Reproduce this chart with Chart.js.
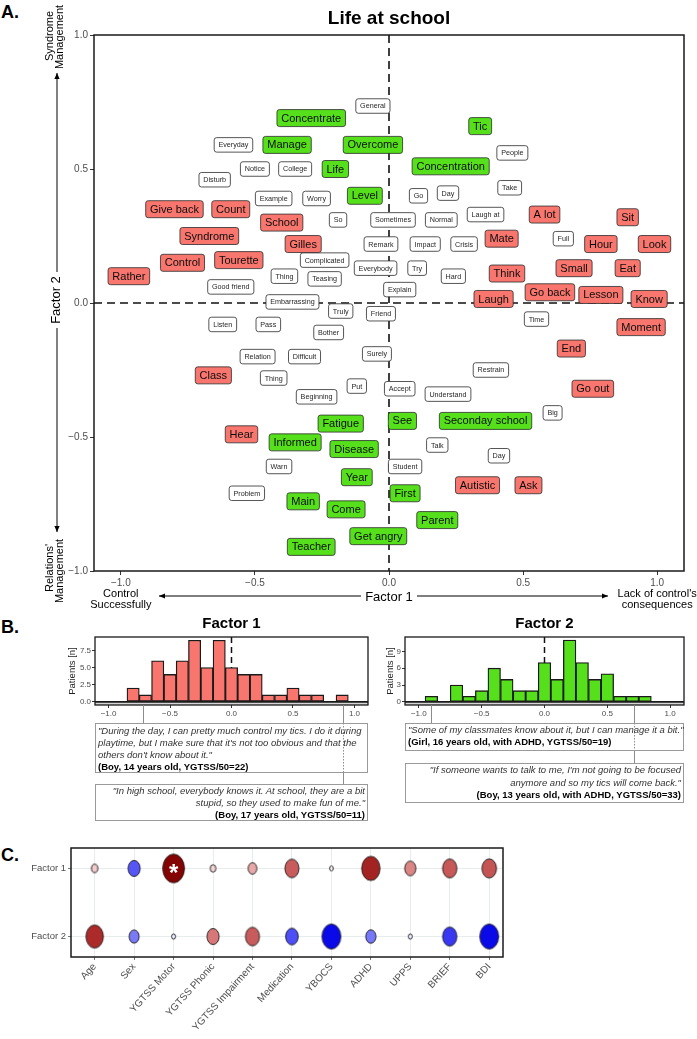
<!DOCTYPE html>
<html>
<head>
<meta charset="utf-8">
<title>Life at school</title>
<script src="https://cdn.jsdelivr.net/npm/chart.js@4.4.1/dist/chart.umd.min.js"></script>
<style>
  html, body { margin: 0; padding: 0; background: #fff; }
  body { width: 697px; height: 1039px; position: relative; overflow: hidden; font-family: "Liberation Sans", Arial, sans-serif; }
  canvas { position: absolute; }
  .tag { position: absolute; left: 1px; font-weight: bold; font-size: 18px; line-height: 18px; color: #000; }
  .quote { position: absolute; box-sizing: border-box; border: 1px solid #9a9a9a; font-size: 9.5px; color: #333; white-space: nowrap; padding: 0 2px; }
  .quote .ql { font-style: italic; }
  .quote .qw { font-weight: bold; color: #000; }
</style>
</head>
<body>
<div class="tag" style="top:3px;">A.</div>
<div class="tag" style="top:618px;">B.</div>
<div class="tag" style="top:846px;">C.</div>
<canvas id="chartA" width="697" height="615" style="left:0;top:0;"></canvas>
<canvas id="chartB1" width="375" height="215" style="left:0;top:610px;"></canvas>
<canvas id="chartB2" width="322" height="215" style="left:375px;top:610px;"></canvas>
<canvas id="chartC" width="697" height="209" style="left:0;top:830px;"></canvas>

<script>
/* ============================================================
   Life at school — word map, factor histograms, correlations
   ============================================================ */
(function () {
  'use strict';

  var FONT = '"Liberation Sans", Arial, sans-serif';
  var RED = '#F8766D';
  var GREEN = '#55E01B';
  var GREY = '#4D4D4D';

  // ---- A. words on the two factors ----
  var redWords = ['Give back', 'Count', 'School', 'Syndrome', 'Gilles', 'Control', 'Tourette', 'Rather', 'A lot', 'Sit',
    'Mate', 'Hour', 'Look', 'Think', 'Small', 'Eat', 'Laugh', 'Go back', 'Lesson', 'Know', 'Moment', 'End', 'Class',
    'Go out', 'Hear', 'Autistic', 'Ask'];
  var redX = [-0.80, -0.59, -0.40, -0.67, -0.32, -0.77, -0.56, -0.97, 0.58, 0.89,
    0.42, 0.79, 0.99, 0.44, 0.69, 0.89, 0.39, 0.60, 0.79, 0.97, 0.94, 0.68, -0.655,
    0.76, -0.55, 0.33, 0.52];
  var redY = [0.35, 0.35, 0.30, 0.25, 0.22, 0.15, 0.16, 0.10, 0.33, 0.32,
    0.24, 0.22, 0.22, 0.11, 0.13, 0.13, 0.015, 0.04, 0.03, 0.015, -0.09, -0.17, -0.27,
    -0.32, -0.49, -0.68, -0.68];

  var greenWords = ['Concentrate', 'Manage', 'Life', 'Overcome', 'Tic', 'Concentration', 'Level', 'Fatigue', 'Informed',
    'Disease', 'Year', 'Main', 'Come', 'Teacher', 'See', 'Seconday school', 'First', 'Parent', 'Get angry'];
  var greenX = [-0.29, -0.38, -0.20, -0.06, 0.34, 0.23, -0.09, -0.18, -0.35,
    -0.13, -0.12, -0.32, -0.16, -0.29, 0.05, 0.36, 0.06, 0.18, -0.04];
  var greenY = [0.69, 0.59, 0.50, 0.59, 0.66, 0.51, 0.40, -0.45, -0.52,
    -0.545, -0.65, -0.74, -0.77, -0.91, -0.44, -0.44, -0.71, -0.81, -0.87];

  var otherWords = ['General', 'Everyday', 'People', 'Notice', 'College', 'Disturb', 'Go', 'Day', 'Take', 'Example',
    'Worry', 'So', 'Sometimes', 'Normal', 'Laugh at', 'Remark', 'Impact', 'Crisis', 'Full', 'Complicated',
    'Everybody', 'Try', 'Hard', 'Thing', 'Teasing', 'Good friend', 'Explain', 'Embarrassing', 'Truly', 'Friend',
    'Time', 'Listen', 'Pass', 'Bother', 'Relation', 'Difficult', 'Surely', 'Thing', 'Restrain', 'Put',
    'Accept', 'Understand', 'Beginning', 'Big', 'Talk', 'Day', 'Warn', 'Student', 'Problem'];
  var otherX = [-0.06, -0.58, 0.46, -0.50, -0.35, -0.65, 0.11, 0.22, 0.45, -0.43,
    -0.27, -0.19, 0.015, 0.195, 0.36, -0.03, 0.135, 0.28, 0.65, -0.24,
    -0.05, 0.105, 0.24, -0.39, -0.24, -0.59, 0.04, -0.36, -0.18, -0.03,
    0.55, -0.62, -0.45, -0.225, -0.49, -0.315, -0.045, -0.43, 0.38, -0.12,
    0.04, 0.22, -0.27, 0.61, 0.18, 0.41, -0.41, 0.06, -0.53];
  var otherY = [0.735, 0.59, 0.56, 0.50, 0.50, 0.46, 0.40, 0.41, 0.43, 0.39,
    0.39, 0.31, 0.31, 0.31, 0.33, 0.22, 0.22, 0.22, 0.24, 0.16,
    0.13, 0.13, 0.10, 0.10, 0.09, 0.06, 0.05, 0.004, -0.03, -0.04,
    -0.06, -0.08, -0.08, -0.11, -0.20, -0.20, -0.19, -0.28, -0.25, -0.31,
    -0.32, -0.34, -0.35, -0.41, -0.53, -0.57, -0.61, -0.61, -0.71];

  var mapTicks = [-1, -0.5, 0, 0.5, 1];
  var mapTickLabels = ['\u22121.0', '\u22120.5', '0.0', '0.5', '1.0'];

  // ---- B. distribution of patient scores ----
  var binCenters1 = [-0.8, -0.7, -0.6, -0.5, -0.4, -0.3, -0.2, -0.1, 0, 0.1, 0.2, 0.3, 0.4, 0.5, 0.6, 0.7, 0.8, 0.9];
  var counts1 = [2, 1, 6, 4, 6, 9, 5, 9, 5, 4, 4, 1, 1, 2, 1, 1, 0, 1];
  var binCenters2 = [-0.9, -0.8, -0.7, -0.6, -0.5, -0.4, -0.3, -0.2, -0.1, 0, 0.1, 0.2, 0.3, 0.4, 0.5, 0.6, 0.7, 0.8];
  var counts2 = [1, 0, 3, 1, 2, 6, 4, 2, 2, 7, 4, 11, 7, 4, 5, 1, 1, 1];
  var countTicks1 = [0, 2.5, 5, 7.5];
  var countTickLabels1 = ['0.0', '2.5', '5.0', '7.5'];
  var countTicks2 = [0, 3, 6, 9];
  var countTickLabels2 = ['0', '3', '6', '9'];
  var quoteScores1 = [-0.72, 0.91];
  var quoteScores2 = [-0.9, 0.71];

  var quotes1 = [
    { lines: ['"During the day, I can pretty much control my tics. I do it during',
      'playtime, but I make sure that it\'s not too obvious and that the',
      'others don\'t know about it."'], who: '(Boy, 14 years old, YGTSS/50=22)', align: 'left' },
    { lines: ['"In high school, everybody knows it. At school, they are a bit',
      'stupid, so they used to make fun of me."'], who: '(Boy, 17 years old, YGTSS/50=11)', align: 'right' }
  ];
  var quotes2 = [
    { lines: ['"Some of my classmates know about it, but I can manage it a bit."'],
      who: '(Girl, 16 years old, with ADHD, YGTSS/50=19)', align: 'left' },
    { lines: ['"If someone wants to talk to me, I\'m not going to be focused',
      'anymore and so my tics will come back."'], who: '(Boy, 13 years old, with ADHD, YGTSS/50=33)', align: 'right' }
  ];

  // ---- C. correlation with clinical scores ----
  var clinicalVars = ['Age', 'Sex', 'YGTSS Motor', 'YGTSS Phonic', 'YGTSS Impairment', 'Medication', 'YBOCS', 'ADHD', 'UPPS', 'BRIEF', 'BDI'];
  var factorRows = ['Factor 1', 'Factor 2'];
  var corrFactor1 = [0.07, -0.19, 0.39, 0.056, 0.12, 0.23, 0.015, 0.32, 0.17, 0.235, 0.24];
  var corrFactor2 = [0.30, -0.146, -0.02, 0.19, 0.23, -0.20, -0.33, -0.15, -0.02, -0.235, -0.33];
  var signifFactor1 = [false, false, true, false, false, false, false, false, false, false, false];
  var signifFactor2 = [false, false, false, false, false, false, false, false, false, false, false];

  Chart.defaults.font.family = FONT;
  Chart.defaults.color = GREY;

  // ---------- helpers ----------
  function pts(xs, ys) {
    return xs.map(function (x, i) { return { x: x, y: ys[i] }; });
  }

  function fixHeight(h) {
    return function (s) { s.height = h; s.paddingLeft = 0; s.paddingRight = 0; };
  }

  function fixWidth(w) {
    return function (s) { s.width = w; s.paddingTop = 0; s.paddingBottom = 0; };
  }

  function setTicks(values) {
    return function (s) { s.ticks = values.map(function (v) { return { value: v }; }); };
  }

  function roundRect(ctx, x, y, w, h, r) {
    ctx.beginPath();
    ctx.moveTo(x + r, y);
    ctx.arcTo(x + w, y, x + w, y + h, r);
    ctx.arcTo(x + w, y + h, x, y + h, r);
    ctx.arcTo(x, y + h, x, y, r);
    ctx.arcTo(x, y, x + w, y, r);
    ctx.closePath();
  }

  function arrow(ctx, x1, y1, x2, y2) {
    var a = Math.atan2(y2 - y1, x2 - x1), L = 6, W = 2.6;
    ctx.beginPath(); ctx.moveTo(x1, y1); ctx.lineTo(x2, y2); ctx.stroke();
    ctx.beginPath();
    ctx.moveTo(x2, y2);
    ctx.lineTo(x2 - L * Math.cos(a) + W * Math.sin(a), y2 - L * Math.sin(a) - W * Math.cos(a));
    ctx.lineTo(x2 - L * Math.cos(a) - W * Math.sin(a), y2 - L * Math.sin(a) + W * Math.cos(a));
    ctx.closePath();
    ctx.fill();
  }

  function vText(ctx, text, x, y) {
    ctx.save();
    ctx.translate(x, y);
    ctx.rotate(-Math.PI / 2);
    ctx.fillText(text, 0, 0);
    ctx.restore();
  }

  function frame(ctx, a, lw) {
    ctx.lineWidth = lw;
    ctx.strokeStyle = '#1a1a1a';
    ctx.setLineDash([]);
    ctx.strokeRect(a.left, a.top, a.right - a.left, a.bottom - a.top);
  }

  // ---------- A. word map ----------
  var wordBoxes = {
    id: 'wordBoxes',
    beforeDatasetsDraw: function (chart) {
      var ctx = chart.ctx, a = chart.chartArea;
      var x0 = chart.scales.x.getPixelForValue(0), y0 = chart.scales.y.getPixelForValue(0);
      ctx.save();
      ctx.setLineDash([8, 5]);
      ctx.lineWidth = 1.6;
      ctx.strokeStyle = '#111';
      ctx.beginPath();
      ctx.moveTo(x0, a.top); ctx.lineTo(x0, a.bottom);
      ctx.moveTo(a.left, y0); ctx.lineTo(a.right, y0);
      ctx.stroke();
      ctx.restore();
    },
    afterDatasetsDraw: function (chart) {
      var ctx = chart.ctx;
      ctx.save();
      chart.data.datasets.forEach(function (ds, di) {
        var meta = chart.getDatasetMeta(di);
        var fs = ds.big ? 11 : 7.2, h = ds.big ? 17 : 14.5, padX = 4.3;
        ctx.font = fs + 'px ' + FONT;
        meta.data.forEach(function (pt, i) {
          var word = ds.words[i];
          var w = ctx.measureText(word).width + padX * 2;
          roundRect(ctx, pt.x - w / 2, pt.y - h / 2, w, h, 2.5);
          ctx.fillStyle = ds.boxFill;
          ctx.fill();
          ctx.lineWidth = 0.8;
          ctx.strokeStyle = '#2b2b2b';
          ctx.stroke();
          ctx.fillStyle = ds.big ? '#0d0d0d' : '#262626';
          ctx.textAlign = 'center';
          ctx.textBaseline = 'middle';
          ctx.fillText(word, pt.x, pt.y + 0.5);
        });
      });
      ctx.restore();
    },
    afterDraw: function (chart) {
      var ctx = chart.ctx, a = chart.chartArea, sx = chart.scales.x;
      var x0 = sx.getPixelForValue(0);
      ctx.save();
      frame(ctx, a, 1.5);
      ctx.fillStyle = '#000';
      ctx.strokeStyle = '#000';
      ctx.textAlign = 'center';
      ctx.textBaseline = 'alphabetic';
      ctx.font = 'bold 19px ' + FONT;
      ctx.fillText('Life at school', x0, 24);

      // horizontal axis title with arrows
      ctx.font = '13px ' + FONT;
      ctx.fillText('Factor 1', x0, a.bottom + 30);
      ctx.lineWidth = 1;
      arrow(ctx, x0 - 28, a.bottom + 25, 159, a.bottom + 25);
      arrow(ctx, x0 + 28, a.bottom + 25, 608, a.bottom + 25);
      ctx.font = '11px ' + FONT;
      var xl = sx.getPixelForValue(-1), xr = sx.getPixelForValue(1);
      ctx.fillText('Control', xl, a.bottom + 25.5);
      ctx.fillText('Successfully', xl, a.bottom + 36.5);
      ctx.fillText('Lack of control\'s', xr, a.bottom + 25.5);
      ctx.fillText('consequences', xr, a.bottom + 36.5);

      // vertical axis title with arrows
      ctx.textBaseline = 'middle';
      ctx.font = '13px ' + FONT;
      vText(ctx, 'Factor 2', 56, 300);
      arrow(ctx, 57, 272, 57, 73);
      arrow(ctx, 57, 328, 57, 532);
      ctx.font = '11px ' + FONT;
      vText(ctx, 'Syndrome', 49.5, 36);
      vText(ctx, 'Management', 60, 37);
      vText(ctx, 'Relations\'', 49.5, 568);
      vText(ctx, 'Management', 60, 571);
      ctx.restore();
    }
  };

  new Chart(document.getElementById('chartA'), {
    type: 'scatter',
    data: {
      datasets: [
        { data: pts(otherX, otherY), words: otherWords, big: false, boxFill: '#ffffff', pointRadius: 0 },
        { data: pts(redX, redY), words: redWords, big: true, boxFill: RED, pointRadius: 0 },
        { data: pts(greenX, greenY), words: greenWords, big: true, boxFill: GREEN, pointRadius: 0 }
      ]
    },
    options: {
      responsive: false,
      animation: false,
      events: [],
      layout: { autoPadding: false, padding: { top: 35, right: 13, bottom: 0, left: 0 } },
      plugins: { legend: { display: false }, tooltip: { enabled: false } },
      scales: {
        x: {
          type: 'linear', min: -1.1, max: 1.1,
          afterBuildTicks: setTicks(mapTicks),
          afterFit: fixHeight(44),
          ticks: { callback: function (v, i) { return mapTickLabels[i]; }, font: { size: 10 }, color: GREY, padding: 2, maxRotation: 0 },
          grid: { drawOnChartArea: false, tickLength: 4, tickColor: '#333', color: '#333' },
          border: { display: false }
        },
        y: {
          type: 'linear', min: -1, max: 1,
          afterBuildTicks: setTicks(mapTicks),
          afterFit: fixWidth(94),
          ticks: { callback: function (v, i) { return mapTickLabels[i]; }, font: { size: 10 }, color: GREY, padding: 2 },
          grid: { drawOnChartArea: false, tickLength: 4, tickColor: '#333', color: '#333' },
          border: { display: false }
        }
      }
    },
    plugins: [wordBoxes]
  });

  // ---------- B. histograms with quotes ----------
  function histogram(cfg) {
    var canvas = document.getElementById(cfg.id);
    var canvasLeft = parseFloat(canvas.style.left), canvasTop = parseFloat(canvas.style.top);

    var decor = {
      id: 'histDecor',
      beforeDatasetsDraw: function (chart) {
        var ctx = chart.ctx, a = chart.chartArea;
        var x0 = chart.scales.x.getPixelForValue(0), yb = chart.scales.y.getPixelForValue(0);
        ctx.save();
        ctx.fillStyle = '#d6d6d6';
        ctx.fillRect(a.left, yb, a.right - a.left, a.bottom - yb);
        ctx.setLineDash([6, 4]);
        ctx.lineWidth = 1.5;
        ctx.strokeStyle = '#111';
        ctx.beginPath(); ctx.moveTo(x0, a.top); ctx.lineTo(x0, yb); ctx.stroke();
        ctx.restore();
      },
      afterDraw: function (chart) {
        var ctx = chart.ctx, a = chart.chartArea, sx = chart.scales.x;
        var yb = chart.scales.y.getPixelForValue(0);
        ctx.save();
        ctx.lineWidth = 1.8;
        ctx.strokeStyle = '#1a1a1a';
        ctx.beginPath(); ctx.moveTo(a.left, yb); ctx.lineTo(a.right, yb); ctx.stroke();
        frame(ctx, a, 1.3);

        ctx.fillStyle = '#000';
        ctx.textAlign = 'center';
        ctx.textBaseline = 'alphabetic';
        ctx.font = 'bold 15px ' + FONT;
        ctx.fillText(cfg.title, (a.left + a.right) / 2, 17.5);
        ctx.fillStyle = '#222';
        ctx.textBaseline = 'middle';
        ctx.font = '9.5px ' + FONT;
        vText(ctx, 'Patients [n]', cfg.titleX, 61);

        // connectors from each quoted score to its quote box
        ctx.strokeStyle = '#8c8c8c';
        ctx.lineWidth = 1;
        cfg.scores.forEach(function (s, i) {
          var x = Math.round(sx.getPixelForValue(s)) + 0.5, y = a.bottom;
          for (var j = 0; j < i; j++) {
            var bt = cfg.boxes[j].top - canvasTop, bb = cfg.boxes[j].bottom - canvasTop;
            ctx.setLineDash([]);
            ctx.beginPath(); ctx.moveTo(x, y); ctx.lineTo(x, bt); ctx.stroke();
            ctx.setLineDash([1.5, 1.5]);
            ctx.beginPath(); ctx.moveTo(x, bt); ctx.lineTo(x, bb); ctx.stroke();
            y = bb;
          }
          ctx.setLineDash([]);
          ctx.beginPath(); ctx.moveTo(x, y); ctx.lineTo(x, cfg.boxes[i].top - canvasTop); ctx.stroke();
        });
        ctx.restore();
      }
    };

    var chart = new Chart(canvas, {
      type: 'bar',
      data: {
        datasets: [{
          data: pts(cfg.centers, cfg.counts),
          backgroundColor: cfg.fill,
          borderColor: '#1a1a1a',
          borderWidth: 1.3,
          borderSkipped: false,
          barPercentage: 1,
          categoryPercentage: 1
        }]
      },
      options: {
        responsive: false,
        animation: false,
        events: [],
        layout: { autoPadding: false, padding: { top: 27, right: cfg.padRight, bottom: 102, left: 0 } },
        plugins: { legend: { display: false }, tooltip: { enabled: false } },
        scales: {
          x: {
            type: 'linear', min: -1.11, max: 1.11, offset: false,
            afterBuildTicks: setTicks(mapTicks),
            afterFit: fixHeight(18),
            ticks: { callback: function (v, i) { return mapTickLabels[i]; }, font: { size: 8 }, color: GREY, padding: 1, maxRotation: 0 },
            grid: { drawOnChartArea: false, offset: false, tickLength: 3, tickColor: '#333', color: '#333' },
            border: { display: false }
          },
          y: {
            type: 'linear', min: cfg.yMin, max: cfg.yMax,
            afterBuildTicks: setTicks(cfg.yTicks),
            afterFit: fixWidth(cfg.axisWidth),
            ticks: { callback: function (v, i) { return cfg.yLabels[i]; }, font: { size: 8 }, color: GREY, padding: 1 },
            grid: { drawOnChartArea: false, tickLength: 3, tickColor: '#333', color: '#333' },
            border: { display: false }
          }
        }
      },
      plugins: [decor]
    });

    // quote boxes aligned with the panel
    var a = chart.chartArea;
    cfg.quotes.forEach(function (q, i) {
      var box = cfg.boxes[i];
      var d = document.createElement('div');
      d.className = 'quote';
      d.style.left = (canvasLeft + a.left) + 'px';
      d.style.width = (a.right - a.left) + 'px';
      d.style.top = box.top + 'px';
      d.style.height = (box.bottom - box.top) + 'px';
      d.style.paddingTop = box.pad + 'px';
      d.style.lineHeight = box.lh + 'px';
      d.style.textAlign = q.align;
      q.lines.forEach(function (line) {
        var l = document.createElement('div');
        l.className = 'ql';
        l.textContent = line;
        d.appendChild(l);
      });
      var w = document.createElement('div');
      w.className = 'qw';
      w.textContent = q.who;
      d.appendChild(w);
      document.body.appendChild(d);
    });
  }

  histogram({
    id: 'chartB1', title: 'Factor 1', fill: RED, centers: binCenters1, counts: counts1,
    yMin: -0.47, yMax: 9.47, yTicks: countTicks1, yLabels: countTickLabels1,
    axisWidth: 95, padRight: 7, titleX: 72,
    scores: quoteScores1, quotes: quotes1,
    boxes: [{ top: 723, bottom: 773, pad: 1, lh: 12 }, { top: 784, bottom: 821, pad: 0, lh: 12 }]
  });

  histogram({
    id: 'chartB2', title: 'Factor 2', fill: GREEN, centers: binCenters2, counts: counts2,
    yMin: -0.55, yMax: 11.55, yTicks: countTicks2, yLabels: countTickLabels2,
    axisWidth: 30, padRight: 13, titleX: 15.5,
    scores: quoteScores2, quotes: quotes2,
    boxes: [{ top: 723, bottom: 751, pad: 0, lh: 12 }, { top: 763, bottom: 803, pad: 0, lh: 12.6 }]
  });

  // ---------- C. correlation bubbles ----------
  var posStops = [[0, [255, 255, 255]], [0.1, [238, 182, 182]], [0.2, [212, 112, 112]], [0.3, [172, 42, 42]], [0.4, [128, 0, 0]]];
  var negStops = [[0, [255, 255, 255]], [0.1, [160, 160, 252]], [0.2, [78, 78, 246]], [0.3, [15, 15, 236]], [0.4, [0, 0, 225]]];

  function corrColor(r) {
    var stops = r < 0 ? negStops : posStops, v = Math.min(Math.abs(r), 0.4);
    for (var i = 1; i < stops.length; i++) {
      if (v <= stops[i][0]) {
        var t = (v - stops[i - 1][0]) / (stops[i][0] - stops[i - 1][0]);
        var c = stops[i - 1][1].map(function (c0, k) { return Math.round(c0 + (stops[i][1][k] - c0) * t); });
        return 'rgb(' + c.join(',') + ')';
      }
    }
    return 'rgb(' + stops[stops.length - 1][1].join(',') + ')';
  }

  function makeMarker(r) {
    var rx = 1.5 + 24 * Math.abs(r), ry = rx * 1.32;
    var c = document.createElement('canvas');
    c.width = Math.ceil(rx * 2 + 3);
    c.height = Math.ceil(ry * 2 + 3);
    var g = c.getContext('2d');
    g.beginPath();
    g.ellipse(c.width / 2, c.height / 2, rx, ry, 0, 0, Math.PI * 2);
    g.fillStyle = corrColor(r);
    g.fill();
    g.lineWidth = 0.9;
    g.strokeStyle = '#1a1a1a';
    g.stroke();
    return c;
  }

  function row(y) {
    return clinicalVars.map(function (v, i) { return { x: i, y: y }; });
  }

  var corrDecor = {
    id: 'corrDecor',
    afterDatasetsDraw: function (chart) {
      var ctx = chart.ctx;
      ctx.save();
      ctx.fillStyle = '#fff';
      ctx.textAlign = 'center';
      ctx.textBaseline = 'alphabetic';
      ctx.font = 'bold 24px ' + FONT;
      [signifFactor1, signifFactor2].forEach(function (sig, di) {
        var meta = chart.getDatasetMeta(di);
        sig.forEach(function (s, i) {
          if (!s) return;
          var p = meta.data[i];
          ctx.fillText('*', p.x, p.y + 13);
        });
      });
      frame(ctx, chart.chartArea, 1.5);
      ctx.restore();
    }
  };

  new Chart(document.getElementById('chartC'), {
    type: 'scatter',
    data: {
      datasets: [
        { data: row(1), pointStyle: corrFactor1.map(makeMarker), pointRadius: 4 },
        { data: row(2), pointStyle: corrFactor2.map(makeMarker), pointRadius: 4 }
      ]
    },
    options: {
      responsive: false,
      animation: false,
      events: [],
      layout: { autoPadding: false, padding: { top: 18, right: 194, bottom: 0, left: 0 } },
      plugins: { legend: { display: false }, tooltip: { enabled: false } },
      scales: {
        x: {
          type: 'linear', min: -0.6, max: 10.35,
          afterBuildTicks: setTicks(clinicalVars.map(function (v, i) { return i; })),
          afterFit: fixHeight(82),
          ticks: { callback: function (v, i) { return clinicalVars[i]; }, font: { size: 10 }, color: GREY, padding: 1,
            minRotation: 48, maxRotation: 48, autoSkip: false },
          grid: { color: '#E1E9E9', lineWidth: 0.8, tickLength: 3, tickColor: '#555' },
          border: { display: false }
        },
        y: {
          type: 'linear', min: 0.7, max: 2.3, reverse: true,
          afterBuildTicks: setTicks([1, 2]),
          afterFit: fixWidth(71),
          ticks: { callback: function (v, i) { return factorRows[i]; }, font: { size: 9.5 }, color: GREY, padding: 2 },
          grid: { color: '#E1E9E9', lineWidth: 0.8, tickLength: 3, tickColor: '#555' },
          border: { display: false }
        }
      }
    },
    plugins: [corrDecor]
  });
}());
</script>
</body>
</html>
